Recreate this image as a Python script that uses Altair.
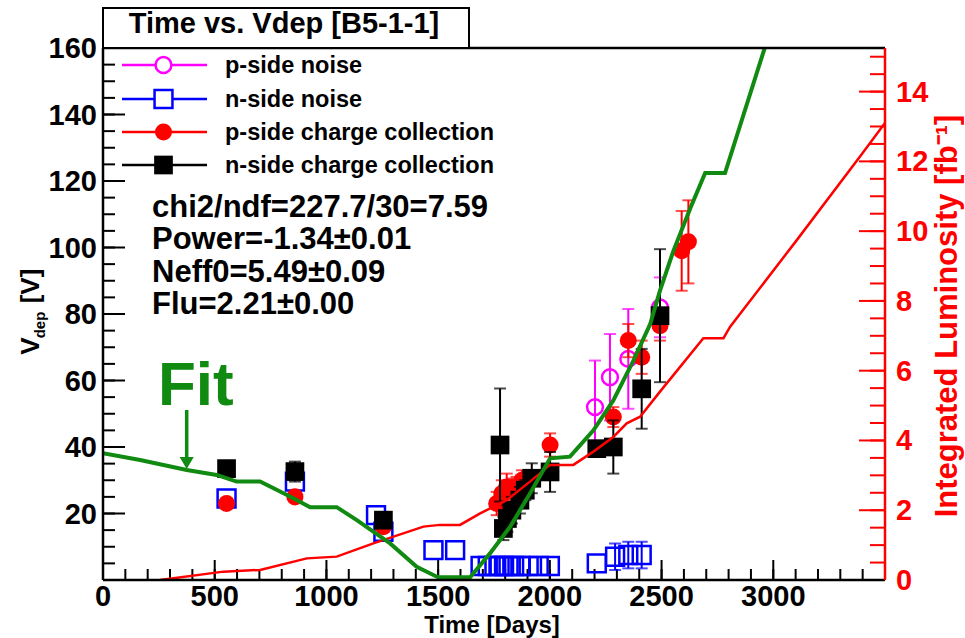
import altair as alt
import pandas as pd

# ---------------- data ----------------
fit_day = [0, 166, 375, 509, 598, 703, 837, 927, 1046, 1136, 1285, 1404, 1494, 1508, 1643,
           1732, 1822, 1911, 2001, 2090, 2195, 2284, 2374, 2449, 2493, 2553, 2630, 2695, 2784, 2963]
fit_v = [38.1, 36.1, 33.1, 31.6, 29.6, 29.6, 25.1, 21.9, 21.9, 18.0, 11.0, 4.0, 1.0, 0.8, 0.8,
         8.0, 16.0, 26.0, 36.6, 37.1, 45.0, 54.0, 66.0, 77.0, 87.0, 99.0, 112.0, 122.4, 122.4, 160.3]

lum_day = [255, 539, 703, 912, 1046, 1210, 1434, 1508, 1598, 1688, 1807, 1911, 2001, 2105,
           2195, 2284, 2344, 2404, 2493, 2687, 2777, 2807, 3100, 3389, 3500]
lum_val = [0.0, 0.24, 0.29, 0.62, 0.67, 1.05, 1.53, 1.58, 1.58, 1.91, 2.29, 2.82, 3.3, 3.3,
           3.68, 4.1, 4.49, 4.68, 5.4, 6.93, 6.93, 7.26, 9.7, 12.15, 13.1]

pnoise_day = [2202, 2269, 2351, 2493]
pnoise_v = [52.0, 61.0, 66.5, 82.0]
pnoise_err = [14.0, 13.0, 15.0, 9.0]

nnoise_day = [553, 859, 1222, 1255, 1479, 1576, 1690, 1722, 1752, 1775, 1795, 1815, 1840,
              1868, 1905, 1950, 2000, 2210, 2292, 2351, 2411]
nnoise_v = [24.5, 29.6, 19.5, 14.5, 9.0, 9.0, 4.2, 4.2, 4.2, 4.2, 4.2, 4.2, 4.2,
            4.2, 4.2, 4.2, 4.2, 5.0, 7.0, 7.5, 7.5]
nnoise_err = [0, 0, 0, 0, 0, 0, 0, 0, 0, 0, 0, 0, 0,
              0, 0, 0, 0, 0, 4.0, 4.0, 4.0]

pcc_day = [553, 859, 1255, 1762, 1785, 1807, 1830, 1851, 1875, 2001, 2284, 2351, 2411, 2493, 2590, 2620]
pcc_v = [23.0, 25.0, 16.0, 23.0, 26.0, 28.0, 27.0, 28.0, 30.0, 40.6, 49.0, 72.0, 67.0, 76.5, 99.0, 101.7]
pcc_err = [0, 1.0, 0, 3.5, 4.0, 4.0, 3.5, 3.0, 3.0, 3.5, 3.0, 5.0, 5.0, 4.5, 12.0, 12.5]

ncc_day = [553, 859, 1255, 1777, 1792, 1810, 1830, 1866, 1890, 1919, 2001, 2210, 2284, 2411, 2493]
ncc_v = [33.5, 32.6, 18.0, 40.6, 15.5, 18.5, 21.0, 24.0, 27.0, 30.6, 32.5, 39.5, 40.0, 57.5, 79.5]
ncc_err = [0, 3.0, 0, 17.0, 3.5, 4.0, 4.0, 4.0, 3.0, 4.5, 6.0, 1.0, 8.0, 12.0, 20.0]

x_labels = [0, 500, 1000, 1500, 2000, 2500, 3000]
y_labels = [20, 40, 60, 80, 100, 120, 140, 160]
lum_labels = [0, 2, 4, 6, 8, 10, 12, 14]

title_text = "Time vs. Vdep [B5-1-1]"
stats_lines = ["chi2/ndf=227.7/30=7.59", "Power=-1.34\u00b10.01", "Neff0=5.49\u00b10.09", "Flu=2.21\u00b10.00"]
legend_labels = ["p-side noise", "n-side noise", "p-side charge collection", "n-side charge collection"]

# ---------------- layout ----------------
W, H = 782, 532
FONT = "Liberation Sans"
GREEN = "#108a10"
xs = alt.Scale(domain=[0, 3500], nice=False, zero=False)
ys = alt.Scale(domain=[0, 160], nice=False, zero=False)
ls = alt.Scale(domain=[0, 15.25], nice=False, zero=False)

dummy = pd.DataFrame({"a": [0]})
layers = []

# ticks (inward)
ymaj = pd.DataFrame({"v": list(range(0, 161, 20))})
ymin = pd.DataFrame({"v": list(range(0, 161, 5))})
xmaj = pd.DataFrame({"d": list(range(0, 3501, 500))})
xmin = pd.DataFrame({"d": list(range(0, 3501, 100))})
lmaj = pd.DataFrame({"l": list(range(0, 15, 2))})
lmin = pd.DataFrame({"l": [i * 0.5 for i in range(0, 31)]})

layers.append(alt.Chart(ymin).mark_rule(color="black", strokeWidth=2).encode(
    y=alt.Y("v:Q", scale=ys, axis=None), x=alt.value(0), x2=alt.value(12)))
layers.append(alt.Chart(ymaj).mark_rule(color="black", strokeWidth=2).encode(
    y=alt.Y("v:Q", scale=ys, axis=None), x=alt.value(0), x2=alt.value(22)))
layers.append(alt.Chart(xmin).mark_rule(color="black", strokeWidth=2).encode(
    x=alt.X("d:Q", scale=xs, axis=None), y=alt.value(H), y2=alt.value(H - 11)))
layers.append(alt.Chart(xmaj).mark_rule(color="black", strokeWidth=2).encode(
    x=alt.X("d:Q", scale=xs, axis=None), y=alt.value(H), y2=alt.value(H - 20)))
layers.append(alt.Chart(lmin).mark_rule(color="red", strokeWidth=2).encode(
    y=alt.Y("l:Q", scale=ls, axis=None), x=alt.value(W), x2=alt.value(W - 15)))
layers.append(alt.Chart(lmaj).mark_rule(color="red", strokeWidth=2).encode(
    y=alt.Y("l:Q", scale=ls, axis=None), x=alt.value(W), x2=alt.value(W - 26)))


def series(days, vals, errs, color, shape, filled, size, sw):
    df = pd.DataFrame({"day": days, "v": vals, "err": errs})
    base = alt.Chart(df)
    e = base.transform_filter("datum.err > 0").transform_calculate(
        lo="datum.v - datum.err", hi="datum.v + datum.err")
    out = [
        e.mark_rule(color=color, strokeWidth=2).encode(
            x=alt.X("day:Q", scale=xs, axis=None),
            y=alt.Y("lo:Q", scale=ys, axis=None), y2="hi:Q"),
        e.mark_tick(color=color, orient="horizontal", size=12, thickness=2).encode(
            x=alt.X("day:Q", scale=xs, axis=None), y=alt.Y("lo:Q", scale=ys, axis=None)),
        e.mark_tick(color=color, orient="horizontal", size=12, thickness=2).encode(
            x=alt.X("day:Q", scale=xs, axis=None), y=alt.Y("hi:Q", scale=ys, axis=None)),
    ]
    if filled:
        pt = base.mark_point(shape=shape, filled=True, fill=color, stroke=color, strokeWidth=0,
                             size=size, opacity=1)
    else:
        pt = base.mark_point(shape=shape, filled=False, stroke=color, strokeWidth=sw,
                             size=size, opacity=1)
    out.append(pt.encode(x=alt.X("day:Q", scale=xs, axis=None), y=alt.Y("v:Q", scale=ys, axis=None)))
    return out


layers += series(pnoise_day, pnoise_v, pnoise_err, "#ff00ff", "circle", False, 250, 2.5)
layers += series(nnoise_day, nnoise_v, nnoise_err, "#0000ff", "square", False, 320, 2.5)
layers += series(pcc_day, pcc_v, pcc_err, "#ff0000", "circle", True, 290, 0)
layers += series(ncc_day, ncc_v, ncc_err, "#000000", "square", True, 350, 0)

# luminosity (right axis)
lum_df = pd.DataFrame({"day": lum_day, "l": lum_val})
layers.append(alt.Chart(lum_df).mark_line(color="red", strokeWidth=2.5, clip=True).encode(
    x=alt.X("day:Q", scale=xs, axis=None), y=alt.Y("l:Q", scale=ls, axis=None)))

# fit curve
fit_df = pd.DataFrame({"day": fit_day, "v": fit_v})
layers.append(alt.Chart(fit_df).mark_line(color=GREEN, strokeWidth=4, clip=True).encode(
    x=alt.X("day:Q", scale=xs, axis=None), y=alt.Y("v:Q", scale=ys, axis=None)))

# frame
layers.append(alt.Chart(dummy).mark_rule(color="black", strokeWidth=2.5).encode(
    x=alt.value(0), x2=alt.value(W), y=alt.value(0)))
layers.append(alt.Chart(dummy).mark_rule(color="black", strokeWidth=2.5).encode(
    x=alt.value(0), x2=alt.value(W), y=alt.value(H)))
layers.append(alt.Chart(dummy).mark_rule(color="black", strokeWidth=2.5).encode(
    x=alt.value(0), y=alt.value(0), y2=alt.value(H)))
layers.append(alt.Chart(dummy).mark_rule(color="red", strokeWidth=2.5).encode(
    x=alt.value(W), y=alt.value(0), y2=alt.value(H)))

# tick labels
layers.append(alt.Chart(pd.DataFrame({"v": y_labels})).mark_text(
    align="right", baseline="alphabetic", dy=10, font=FONT, fontSize=29, fontWeight="bold",
    color="black").encode(x=alt.value(-6), y=alt.Y("v:Q", scale=ys, axis=None),
                          text=alt.Text("v:Q", format="d")))
layers.append(alt.Chart(pd.DataFrame({"d": x_labels})).mark_text(
    align="center", baseline="alphabetic", font=FONT, fontSize=29, fontWeight="bold",
    color="black").encode(x=alt.X("d:Q", scale=xs, axis=None), y=alt.value(558),
                          text=alt.Text("d:Q", format="d")))
layers.append(alt.Chart(pd.DataFrame({"l": lum_labels})).mark_text(
    align="left", baseline="alphabetic", dy=10, font=FONT, fontSize=29, fontWeight="bold",
    color="red").encode(x=alt.value(W + 11), y=alt.Y("l:Q", scale=ls, axis=None),
                        text=alt.Text("l:Q", format="d")))

# axis titles
layers.append(alt.Chart(dummy).mark_text(
    align="center", baseline="alphabetic", font=FONT, fontSize=24, fontWeight="bold",
    color="black").encode(x=alt.value(389), y=alt.value(584.5), text=alt.value("Time [Days]")))
layers.append(alt.Chart(dummy).mark_text(
    align="center", baseline="middle", angle=270, font=FONT, fontSize=26, fontWeight="bold",
    color="black").encode(x=alt.value(-72), y=alt.value(298), text=alt.value("V")))
layers.append(alt.Chart(dummy).mark_text(
    align="center", baseline="middle", angle=270, font=FONT, fontSize=15, fontWeight="bold",
    color="black").encode(x=alt.value(-63), y=alt.value(277), text=alt.value("dep")))
layers.append(alt.Chart(dummy).mark_text(
    align="center", baseline="middle", angle=270, font=FONT, fontSize=26, fontWeight="bold",
    color="black").encode(x=alt.value(-72), y=alt.value(238), text=alt.value("[V]")))
layers.append(alt.Chart(dummy).mark_text(
    align="center", baseline="middle", angle=270, font=FONT, fontSize=31, fontWeight="bold",
    color="red").encode(x=alt.value(845), y=alt.value(268),
                        text=alt.value("Integrated Luminosity [fb\u207b\u00b9]")))

# stats text
for i, line in enumerate(stats_lines):
    layers.append(alt.Chart(dummy).mark_text(
        align="left", baseline="alphabetic", font=FONT, fontSize=31, fontWeight="bold",
        color="black").encode(x=alt.value(49), y=alt.value(169 + 32.4 * i), text=alt.value(line)))

# Fit annotation
layers.append(alt.Chart(dummy).mark_text(
    align="left", baseline="alphabetic", font=FONT, fontSize=62, fontWeight="bold",
    color=GREEN).encode(x=alt.value(55), y=alt.value(357), text=alt.value("Fit")))
layers.append(alt.Chart(dummy).mark_rule(color=GREEN, strokeWidth=3.5).encode(
    x=alt.value(83.7), y=alt.value(362), y2=alt.value(412)))
layers.append(alt.Chart(dummy).mark_point(shape="triangle-down", filled=True, fill=GREEN,
                                          strokeWidth=0, size=200, opacity=1).encode(
    x=alt.value(83.7), y=alt.value(415)))

# legend
leg_colors = ["#ff00ff", "#0000ff", "#ff0000", "#000000"]
leg_shapes = ["circle", "square", "circle", "square"]
leg_filled = [False, False, True, True]
leg_sizes = [250, 320, 290, 350]
leg_y = [17, 51, 84, 117]
for lab, c, s, f, sz, yy in zip(legend_labels, leg_colors, leg_shapes, leg_filled, leg_sizes, leg_y):
    layers.append(alt.Chart(dummy).mark_rule(color=c, strokeWidth=2.5).encode(
        x=alt.value(19), x2=alt.value(104), y=alt.value(yy)))
    if f:
        mk = alt.Chart(dummy).mark_point(shape=s, filled=True, fill=c, strokeWidth=0, size=sz, opacity=1)
    else:
        mk = alt.Chart(dummy).mark_point(shape=s, filled=True, fill="white", stroke=c,
                                         strokeWidth=2.5, size=sz, opacity=1)
    layers.append(mk.encode(x=alt.value(60.5), y=alt.value(yy)))
    layers.append(alt.Chart(dummy).mark_text(
        align="left", baseline="alphabetic", font=FONT, fontSize=23.5, fontWeight="bold",
        color="black").encode(x=alt.value(122), y=alt.value(yy + 8), text=alt.value(lab)))

# title box
layers.append(alt.Chart(dummy).mark_rect(fill="white", stroke="black", strokeWidth=2).encode(
    x=alt.value(0), x2=alt.value(366), y=alt.value(-40), y2=alt.value(0)))
layers.append(alt.Chart(dummy).mark_text(
    align="center", baseline="alphabetic", font=FONT, fontSize=29, fontWeight="bold",
    color="black").encode(x=alt.value(181), y=alt.value(-15), text=alt.value(title_text)))

chart = alt.layer(*layers).resolve_scale(y="independent").properties(
    width=W, height=H,
    padding={"left": 103, "top": 48, "right": 80, "bottom": 58},
    autosize=alt.AutoSizeParams(type="none"),
).configure_view(stroke=None).configure(background="white")

chart.save("out.html", embed_options={"renderer": "svg", "actions": False})
